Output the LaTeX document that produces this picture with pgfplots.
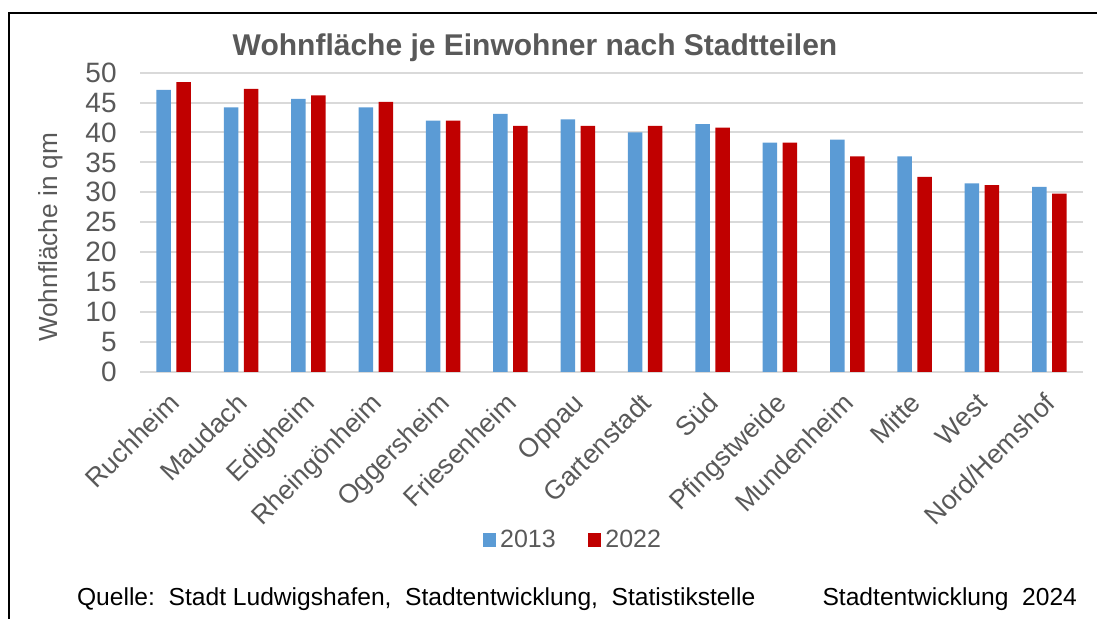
\documentclass[border=0pt]{standalone}
\usepackage{pgfplots}
\pgfplotsset{compat=1.18}
\usepackage{fontspec}
\setmainfont{Liberation Sans}
\definecolor{cblue}{HTML}{5B9BD5}
\definecolor{cred}{HTML}{C00000}
\definecolor{tgray}{HTML}{595959}
\definecolor{ggray}{HTML}{D9D9D9}
\pgfplotstableread{
x y13 y22
0 47.1 48.4
1 44.2 47.3
2 45.6 46.2
3 44.2 45.1
4 42.0 42.0
5 43.1 41.1
6 42.2 41.1
7 40.0 41.1
8 41.4 40.8
9 38.3 38.3
10 38.8 36.0
11 36.0 32.6
12 31.5 31.2
13 30.9 29.8
}\datatable
\begin{document}
\begin{tikzpicture}
\useasboundingbox (0,0) rectangle (548.5pt,-309.5pt);
\draw[line width=1pt, black] (4.5pt,-310pt) -- (4.5pt,-6.75pt) -- (549pt,-6.75pt);
\node[font=\fontsize{15}{18}\selectfont\bfseries, text=tgray] at (267.5pt,-24pt) {Wohnfläche je Einwohner nach Stadtteilen};
\begin{axis}[
  at={(70pt,-186pt)}, anchor=south west,
  scale only axis, width=471.5pt, height=149.7pt,
  xmin=-0.5, xmax=13.5, ymin=0, ymax=50,
  ytick={0,5,...,50},
  xtick={0,...,13},
  xticklabels={Ruchheim,Maudach,Edigheim,Rheingönheim,Oggersheim,Friesenheim,Oppau,Gartenstadt,Süd,Pfingstweide,Mundenheim,Mitte,West,Nord/Hemshof},
  ymajorgrids, grid style={draw=ggray, line width=1pt},
  axis line style={draw=none},
  major tick length=0pt,
  /pgf/number format/assume math mode=true,
  tick label style={text=tgray},
  yticklabel style={font=\fontsize{14}{16}\selectfont, inner sep=0pt, xshift=-11.5pt},
  xticklabel style={font=\fontsize{13.3}{15}\selectfont, inner sep=0pt, xshift=-3pt, yshift=-9.5pt, rotate=45, anchor=north east},
  ylabel={Wohnfläche in qm},
  ylabel style={font=\fontsize{13.1}{15}\selectfont, text=tgray, at={(axis description cs:-0.095,0.45)}, anchor=center},
  bar width=7.25pt,
  legend columns=2,
  legend style={at={(axis description cs:0.46,-0.561)}, anchor=center, draw=none, fill=none,
    font=\fontsize{12.5}{15}\selectfont, text=tgray,
    /tikz/every even column/.append style={column sep=14pt}},
  legend image code/.code={\fill[#1] (0pt,-3.3pt) rectangle (6.8pt,3.3pt);},
  clip=false,
]
\addplot[ybar, fill=cblue, draw=none, bar shift=-5pt] table[x=x,y=y13] {\datatable};
\addlegendentry{2013}
\addplot[ybar, fill=cred, draw=none, bar shift=5pt] table[x=x,y=y22] {\datatable};
\addlegendentry{2022}
\end{axis}
\node[anchor=base west, font=\fontsize{12.3}{15}\selectfont, text=black] at (35pt,-302.5pt) {Quelle:\ \ Stadt Ludwigshafen,\ \ Stadtentwicklung,\ \ Statistikstelle};
\node[anchor=base east, font=\fontsize{12.3}{15}\selectfont, text=black] at (542pt,-302.5pt) {Stadtentwicklung\ \ 2024};
\end{tikzpicture}
\end{document}
